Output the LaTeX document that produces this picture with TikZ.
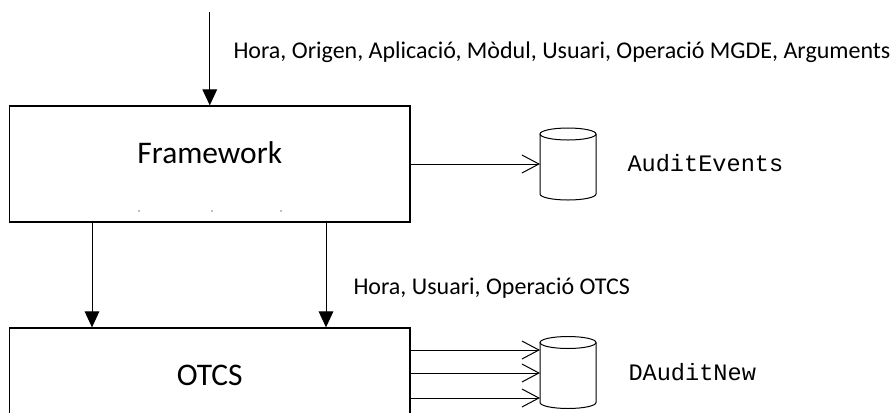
\documentclass[tikz,border=0pt]{standalone}
\usepackage{fontspec}
\setmainfont{Carlito}
\newfontfamily\monofam{Liberation Mono}
\usetikzlibrary{arrows.meta,calc}
\tikzset{every picture/.style={line width=0.75pt}}
\tikzset{
  blk/.style={draw, line width=1pt, minimum width=300.4pt, minimum height=87pt, inner sep=0pt},
  dbbox/.style={minimum width=42pt, minimum height=54pt, inner sep=0pt, outer sep=0pt},
  fillarr/.style={-{Triangle[length=12pt,width=11pt]}},
  openarr/.style={-{Straight Barb[length=12.75pt,width=13.5pt]}},
  lbl/.style={anchor=west, inner sep=0pt, font=\fontsize{18}{21}\selectfont},
  ttl/.style={inner sep=0pt, font=\fontsize{23.6}{28}\selectfont},
  tbl/.style={anchor=west, inner sep=0pt, font=\monofam\fontsize{17.7}{21}\selectfont}
}
% can outline round a dbbox node
\newcommand{\dbcan}[1]{%
  \draw ($(#1.north west)+(0,6)$) -- ($(#1.south west)+(0,-6)$)
    arc[start angle=180, end angle=0, x radius=28, y radius=6]
    -- ($(#1.north east)+(0,6)$);
  \draw ($(#1.north)+(0,6)$) ellipse[x radius=28, y radius=6];
}

\begin{document}
\begin{tikzpicture}[x=0.75pt,y=0.75pt,yscale=-1,xscale=1]
\path[use as bounding box, clip] (0,0) rectangle (893,412);

%Shape: Rectangle [Framework]
\node[blk] (fw) at (209.75,164) {};
%Shape: Rectangle [OTCS]
\node[blk] (otcs) at (209.75,386) {};
%Shape: Can [AuditEvents]
\node[dbbox] (dbev) at (568,164) {};
\dbcan{dbev}
%Shape: Can [DAuditNew]
\node[dbbox] (dbnew) at (568,372.5) {};
\dbcan{dbnew}

% Text Node
\node[ttl] (fwtxt) at (209.75,153) {Framework};
% Text Node
\node[ttl] (otcstxt) at (209.75,375) {OTCS};
% Text Node
\node[lbl] (inlbl) at (233,52) {Hora, Origen, Aplicació, Mòdul, Usuari, Operació MGDE, Arguments};
% Text Node
\node[lbl] (otcslbl) at (353,288) {Hora, Usuari, Operació OTCS};
% Text Node
\node[tbl] (evlbl) at (627,163) {AuditEvents};
% Text Node
\node[tbl] (newlbl) at (628,372) {DAuditNew};

%Straight Lines
\coordinate (src) at (209.75,12);
\draw[fillarr] (src) -- (fw.north);
\draw[fillarr] (fw.south -| 92,0) -- (otcs.north -| 92,0);
\draw[fillarr] (fw.south -| 326,0) -- (otcs.north -| 326,0);
\draw[openarr] (fw.east) -- (dbev.west);
\foreach \ty in {350,373,398}
  \draw[openarr] (otcs.east |- 0,\ty) -- (dbnew.west |- 0,\ty);

%Dots
\foreach \dx in {139,212,281}
  \fill[gray] (\dx,211) circle (0.8);
\end{tikzpicture}
\end{document}
